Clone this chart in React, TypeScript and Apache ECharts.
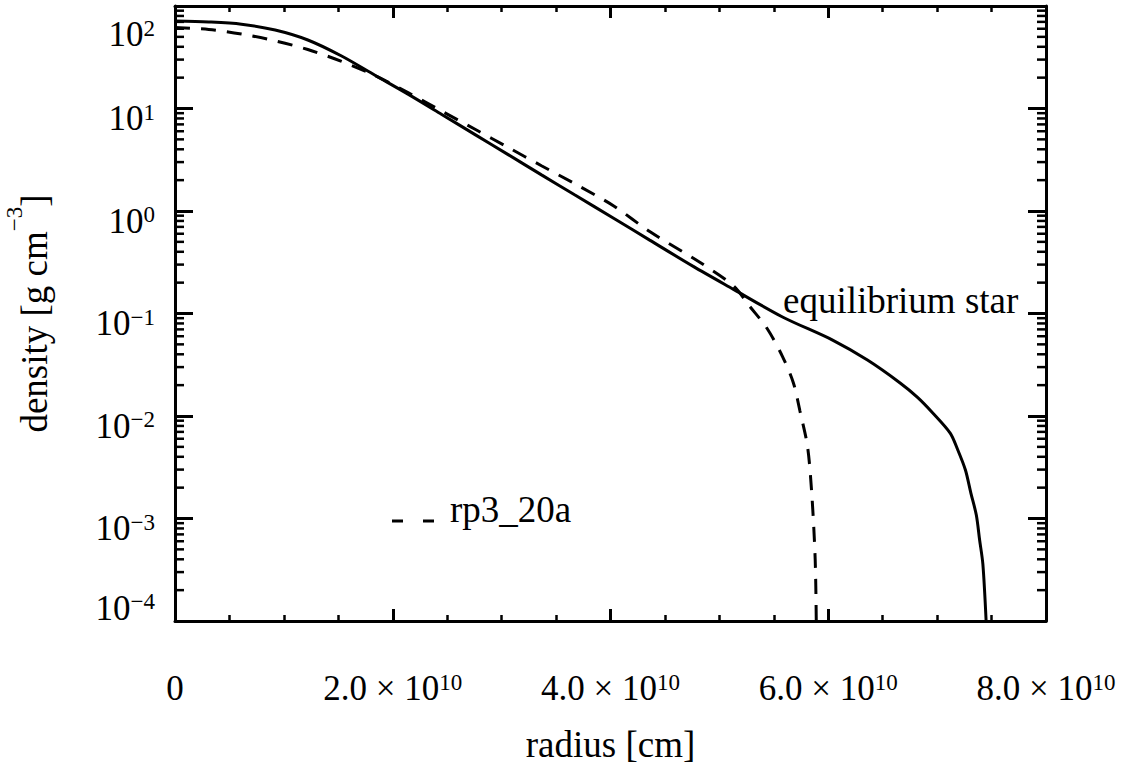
import React, { useEffect, useRef } from "react";
import * as echarts from "echarts";

// ---- data ----
const yDecades = [-4, -3, -2, -1, 0, 1, 2];
const xMin = 0;
const xMax = 8e10;
const xInterval = 2e10;
const yMin = 1e-4;
const yMax = 1e2;

const seriesNames = ["equilibrium star", "rp3_20a"];
const xTitle = "radius [cm]";

const solidR = [
  0, 0.31e10, 0.61e10, 0.92e10, 1.22e10, 1.53e10, 1.84e10, 2.14e10, 2.45e10,
  2.76e10, 3.06e10, 3.37e10, 3.67e10, 4.04e10, 4.36e10, 4.76e10, 5.13e10,
  5.58e10, 6.04e10, 6.36e10, 6.66e10, 6.82e10, 6.96e10, 7.12e10, 7.19e10,
  7.26e10, 7.31e10, 7.36e10, 7.39e10, 7.42e10, 7.45e10,
];
const solidRho = [
  71.4, 69.8, 66.4, 58.3, 46.6, 32.5, 21.0, 13.8, 8.75, 5.53, 3.55, 2.24, 1.44,
  0.836, 0.52, 0.288, 0.172, 0.0925, 0.055, 0.0351, 0.021, 0.0152, 0.0107,
  0.0068, 0.00466, 0.00297, 0.00177, 0.00108, 0.00062, 0.00036, 0.0001,
];

const dashedR = [
  0, 0.31e10, 0.61e10, 0.92e10, 1.22e10, 1.53e10, 1.84e10, 2.14e10, 2.45e10,
  2.76e10, 3.06e10, 3.37e10, 3.67e10, 4.03e10, 4.36e10, 4.82e10, 5.13e10,
  5.28e10, 5.44e10, 5.58e10, 5.68e10, 5.74e10, 5.81e10, 5.85e10, 5.88e10,
  5.89e10,
];
const dashedRho = [
  61.7, 59.1, 53.3, 45.7, 37.6, 28.8, 20.9, 14.3, 9.44, 6.24, 4.17, 2.75, 1.85,
  1.12, 0.63, 0.316, 0.186, 0.117, 0.071, 0.038, 0.021, 0.0112, 0.005,
  0.00166, 0.0004, 0.0001,
];

const FONT = '"Liberation Serif", "Times New Roman", "DejaVu Serif", serif';
const MINUS = "\u2212";

const yMinorValues: number[] = [];
for (let i = 0; i < yDecades.length - 1; i++) {
  for (let k = 2; k <= 9; k++) yMinorValues.push(k * Math.pow(10, yDecades[i]));
}

const base = { fontFamily: FONT, color: "#000" };
const tickRich: any = {
  // regular labels
  b: { ...base, fontSize: 35, height: 35, lineHeight: 35, verticalAlign: "bottom" },
  s: { ...base, fontSize: 23, height: 22, verticalAlign: "top" },
  // top label (pushed inward, downwards)
  bT: { ...base, fontSize: 35, height: 35, lineHeight: 71, verticalAlign: "bottom" },
  sT: { ...base, fontSize: 23, height: 46, verticalAlign: "bottom" },
  // bottom label (pushed inward, upwards)
  bB: { ...base, fontSize: 35, height: 35, lineHeight: 81, verticalAlign: "top" },
  sB: { ...base, fontSize: 23, height: 22, verticalAlign: "top" },
};

export default function App() {
  const ref = useRef<HTMLDivElement>(null);

  useEffect(() => {
    if (!ref.current) return;
    const chart = echarts.init(ref.current, null, { renderer: "svg" });

    const solidData = solidR.map((r, i) => [r, solidRho[i]]);
    const dashedData = dashedR.map((r, i) => [r, dashedRho[i]]);

    const axisLineStyle = { color: "#000", width: 3 };
    const majorTick = { color: "#000", width: 3 };
    const minorTick = { color: "#000", width: 2.5 };

    const option: any = {
      animation: false,
      backgroundColor: "#fff",
      grid: {
        left: 175,
        right: 80,
        top: 6,
        bottom: 152,
        containLabel: false,
        outerBoundsMode: "none",
      },
      xAxis: [
        {
          type: "value",
          position: "bottom",
          min: xMin,
          max: xMax,
          interval: xInterval,
          name: xTitle,
          nameLocation: "middle",
          nameGap: 105,
          nameTextStyle: { fontSize: 37, fontFamily: FONT, color: "#000" },
          axisLine: { show: true, onZero: false, lineStyle: axisLineStyle },
          axisTick: { show: true, inside: true, length: 12, lineStyle: majorTick },
          minorTick: { show: true, splitNumber: 4, length: 6, lineStyle: minorTick },
          splitLine: { show: false },
          axisLabel: {
            margin: 50,
            hideOverlap: false,
            showMaxLabel: true,
            showMinLabel: true,
            formatter: (v: number) =>
              v === 0 ? "{b|0}" : `{b|${(v / 1e10).toFixed(1)} \u00d7 10}{s|10}`,
            rich: tickRich,
          },
        },
        {
          type: "value",
          position: "top",
          min: xMin,
          max: xMax,
          interval: xInterval,
          axisLine: { show: true, onZero: false, lineStyle: axisLineStyle },
          axisTick: { show: true, inside: true, length: 12, lineStyle: majorTick },
          minorTick: { show: true, splitNumber: 4, length: 6, lineStyle: minorTick },
          splitLine: { show: false },
          axisLabel: { show: false },
        },
      ],
      yAxis: [
        {
          type: "log",
          logBase: 10,
          position: "left",
          min: yMin,
          max: yMax,
          name: `{t|density [g cm}{s|${MINUS}3}{t|]}`,
          nameLocation: "middle",
          nameRotate: 90,
          nameGap: 122,
          nameTextStyle: {
            fontSize: 37,
            fontFamily: FONT,
            color: "#000",
            rich: {
              t: { ...base, fontSize: 37, height: 37, lineHeight: 50, verticalAlign: "bottom" },
              s: { ...base, fontSize: 23, height: 22, verticalAlign: "top" },
            },
          },
          axisLine: { show: true, onZero: false, lineStyle: axisLineStyle },
          axisTick: { show: true, inside: true, length: 18, lineStyle: majorTick },
          splitLine: { show: false },
          axisLabel: {
            margin: 20,
            padding: [20, 0, 0, 0],
            hideOverlap: false,
            showMaxLabel: true,
            showMinLabel: true,
            formatter: (v: number) => {
              const e = Math.round(Math.log10(v));
              const s = e < 0 ? MINUS + String(-e) : String(e);
              if (e === yDecades[yDecades.length - 1]) return `{bT|10}{sT|${s}}`;
              if (e === yDecades[0]) return `{bB|10}{sB|${s}}`;
              return `{b|10}{s|${s}}`;
            },
            rich: tickRich,
          },
        },
        {
          type: "log",
          logBase: 10,
          position: "right",
          min: yMin,
          max: yMax,
          axisLine: { show: true, onZero: false, lineStyle: axisLineStyle },
          axisTick: { show: true, inside: true, length: 18, lineStyle: majorTick },
          splitLine: { show: false },
          axisLabel: { show: false },
        },
      ],
      series: [
        {
          name: seriesNames[0],
          type: "line",
          data: solidData,
          symbol: "none",
          smooth: 0.3,
          lineStyle: { color: "#000", width: 3, type: "solid" },
          z: 3,
        },
        {
          name: seriesNames[1],
          type: "line",
          data: dashedData,
          symbol: "none",
          smooth: 0.3,
          lineStyle: { color: "#000", width: 3, type: [15, 11] },
          z: 3,
        },
        {
          name: "minor ticks",
          type: "custom",
          silent: true,
          clip: false,
          z: 5,
          data: yMinorValues.map((v) => [xMin, v]),
          renderItem: (params: any, api: any) => {
            const v = api.value(1);
            const l = api.coord([xMin, v]);
            const r = api.coord([xMax, v]);
            const st = { stroke: "#000", lineWidth: 2.5 };
            return {
              type: "group",
              children: [
                { type: "line", shape: { x1: l[0], y1: l[1], x2: l[0] + 9, y2: l[1] }, style: st },
                { type: "line", shape: { x1: r[0], y1: r[1], x2: r[0] - 9, y2: r[1] }, style: st },
              ],
            };
          },
        },
      ],
      graphic: [
        {
          type: "text",
          x: 783,
          y: 300,
          style: {
            text: seriesNames[0],
            font: `37px ${FONT}`,
            fill: "#000",
            verticalAlign: "middle",
            align: "left",
          },
        },
        {
          type: "line",
          shape: { x1: 392, y1: 521, x2: 435, y2: 521 },
          style: { stroke: "#000", lineWidth: 3, lineDash: [11, 20] },
        },
        {
          type: "text",
          x: 450,
          y: 509,
          style: {
            text: seriesNames[1],
            font: `37px ${FONT}`,
            fill: "#000",
            verticalAlign: "middle",
            align: "left",
          },
        },
      ],
    };

    chart.setOption(option);
    return () => chart.dispose();
  }, []);

  return (
    <div
      ref={ref}
      style={{ position: "fixed", left: 0, top: 0, width: 1126, height: 773, background: "#fff" }}
    />
  );
}
